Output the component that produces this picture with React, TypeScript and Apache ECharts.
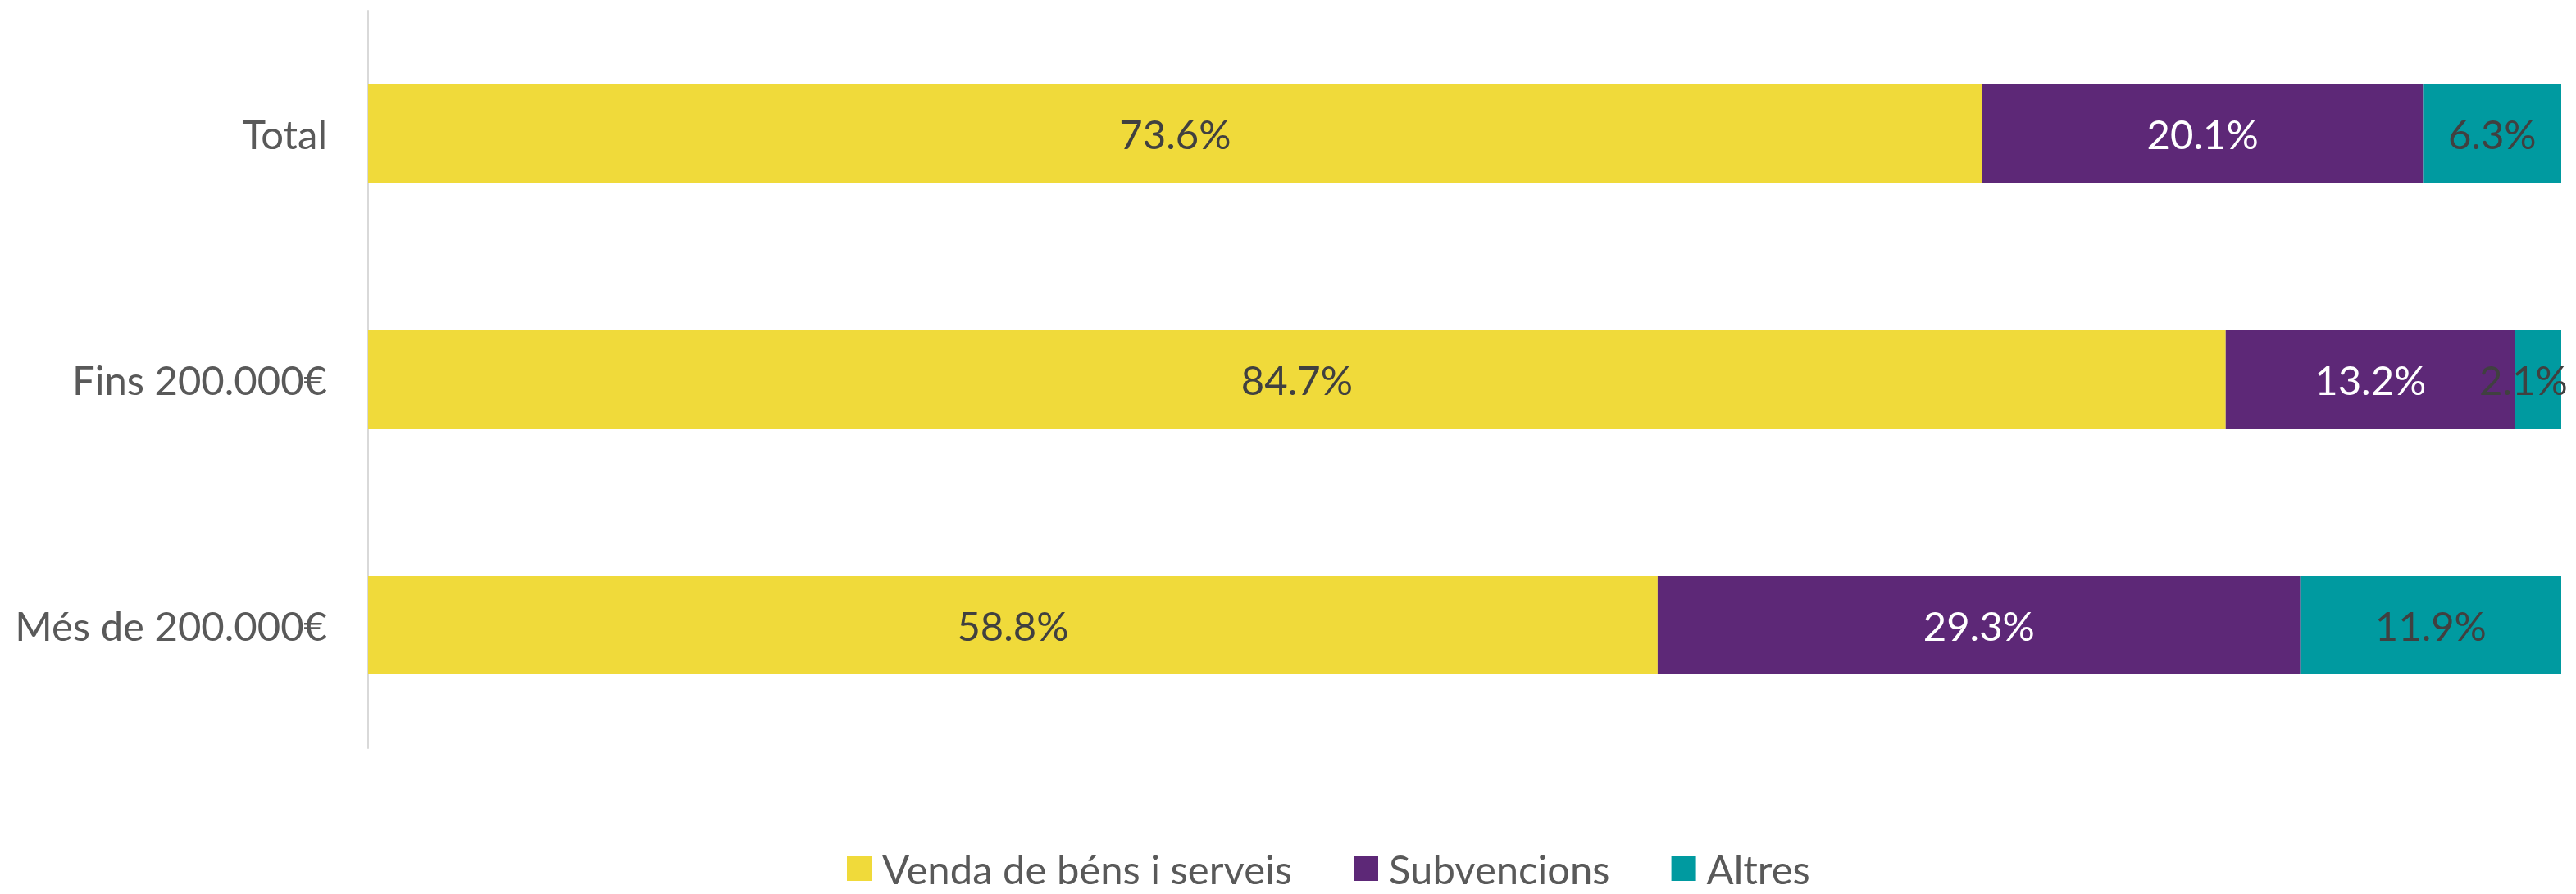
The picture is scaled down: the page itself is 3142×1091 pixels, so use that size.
import React, { useEffect, useRef } from "react";
import * as echarts from "echarts";

const categories = ["Total", "Fins 200.000€", "Més de 200.000€"];
const seriesNames = ["Venda de béns i serveis", "Subvencions", "Altres"];
const vendaValues = [73.6, 84.7, 58.8];
const subvencionsValues = [20.1, 13.2, 29.3];
const altresValues = [6.3, 2.1, 11.9];

const colors = ["#F0DA3A", "#5D2877", "#009AA0"];
const labelColors = ["#404040", "#FFFFFF", "#404040"];

const FONT = "Lato";
const FS = 49;

export default function App() {
  const ref = useRef<HTMLDivElement>(null);
  useEffect(() => {
    if (!ref.current) return;
    const chart = echarts.init(ref.current, undefined, { renderer: "svg" });
    const data = [vendaValues, subvencionsValues, altresValues];
    chart.setOption({
      animation: false,
      backgroundColor: "#FFFFFF",
      grid: { left: 449, right: 18, top: 13, bottom: 178, containLabel: false },
      xAxis: {
        type: "value",
        min: 0,
        max: 100,
        show: false,
      },
      yAxis: {
        type: "category",
        data: categories,
        inverse: true,
        axisLine: { show: true, lineStyle: { color: "#D9D9D9", width: 2 } },
        axisTick: { show: false },
        axisLabel: {
          margin: 50,
          color: "#595959",
          fontFamily: FONT,
          fontSize: FS,
        },
        splitLine: { show: false },
      },
      legend: {
        top: 1032,
        left: 1033,
        padding: 0,
        itemWidth: 30,
        itemHeight: 30,
        itemGap: 75,
        icon: "rect",
        textStyle: {
          color: "#595959",
          fontFamily: FONT,
          fontSize: FS,
          lineHeight: 56,
          padding: [0, 0, 0, 8],
        },
        data: seriesNames,
      },
      series: seriesNames.map((name, i) => ({
        name,
        type: "bar",
        stack: "total",
        data: data[i].map((v) =>
          i === 2 && v < 5
            ? { value: v, label: { offset: [-18, 0] } }
            : v
        ),
        barWidth: 120,
        itemStyle: { color: colors[i] },
        label: {
          show: true,
          position: "inside",
          formatter: (p: any) => p.value.toFixed(1) + "%",
          color: labelColors[i],
          fontFamily: FONT,
          fontSize: FS,
        },
      })),
    });
    return () => chart.dispose();
  }, []);
  return (
    <div
      ref={ref}
      style={{ position: "fixed", left: 0, top: 0, width: 3142, height: 1091 }}
    />
  );
}
